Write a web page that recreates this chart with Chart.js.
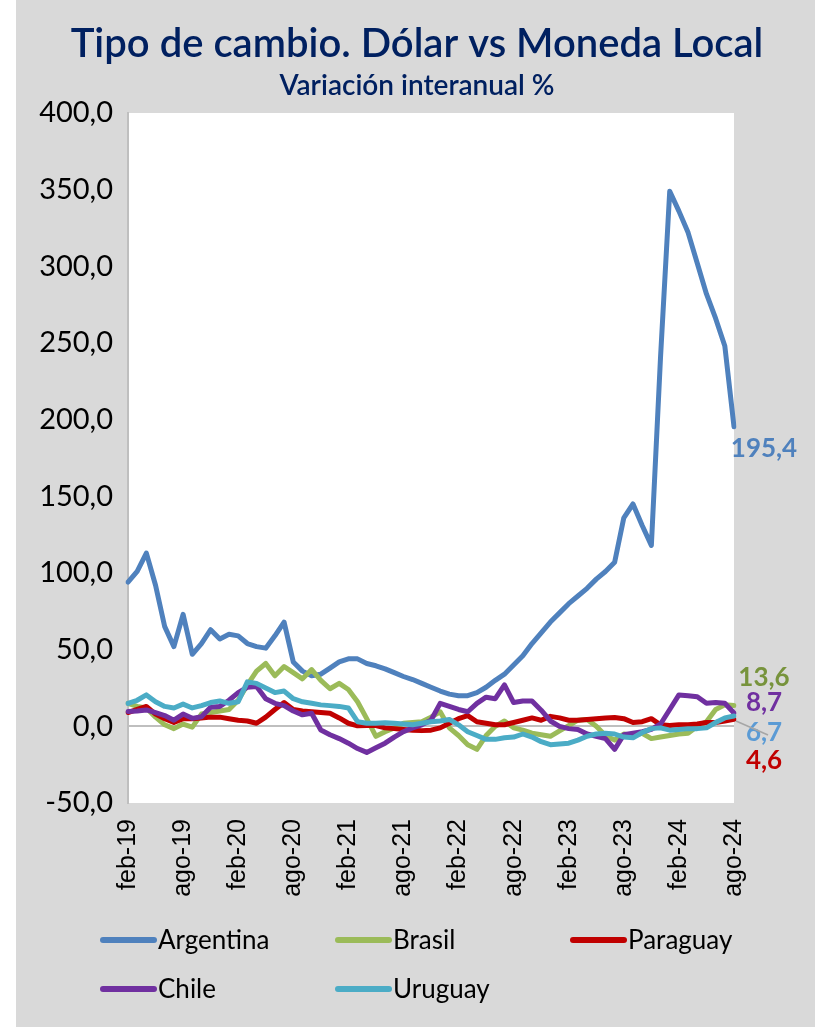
<!DOCTYPE html>
<html>
<head>
<meta charset="utf-8">
<script src="https://cdn.jsdelivr.net/npm/chart.js@4.4.0/dist/chart.umd.min.js"></script>
<style>
  html, body { margin: 0; padding: 0; background: #fff; }
  #wrap { width: 820px; height: 1027px; }
</style>
</head>
<body>
<div id="wrap"><canvas id="myChart" width="820" height="1027"></canvas></div>
<script>
// categorias: feb-19 ... ago-24 (mensual)
const meses = ['ene', 'feb', 'mar', 'abr', 'may', 'jun', 'jul', 'ago', 'sep', 'oct', 'nov', 'dic'];
const anios = ['19', '20', '21', '22', '23', '24'];
const etiquetas = [];
anios.forEach((a, k) => {
  meses.forEach((m, j) => {
    if (k === 0 && j < 1) return;
    if (k === anios.length - 1 && j > 7) return;
    etiquetas.push(m + '-' + a);
  });
});

const yTicks = [-50, 0, 50, 100, 150, 200, 250, 300, 350, 400];

const argentina = [94, 101, 113, 92, 65, 52, 73, 47, 54, 63, 57, 60, 59, 54, 52, 51, 59, 68, 42, 36,
  33, 34, 38, 42, 44, 44, 41, 39.5, 37.5, 35, 32.5, 30.5, 28, 25.5, 23, 21, 20, 20, 22, 25.5,
  30, 34, 40, 46, 54, 61, 68, 74, 80, 85, 90, 96, 101, 107, 136, 145, 131, 118, 241, 349,
  336, 322, 302, 282, 266, 248, 195.4];
const brasil = [15, 13, 12, 6, 1, -1.5, 1.5, -0.5, 8, 9, 10, 11, 17, 27, 36, 41, 33, 39, 35, 31,
  37, 30, 24.5, 28, 24, 16, 5, -6.5, -3.5, -1, 2, 2.5, 3, 6, 9.5, -1, -6, -12, -15, -6,
  0, 3.5, -1, -2.5, -4.5, -5.5, -6.5, -3, 0.5, 4, 4.5, 0, -6, -9, -5, -6, -4.5, -8, -7, -6,
  -5, -4.5, 0, 3, 11, 14, 13.6];
const paraguay = [9, 11, 13, 8, 5, 2.5, 5, 5, 5.5, 6, 6, 5, 4, 3.5, 2, 6, 11, 15.5, 11, 10,
  9.5, 9, 8.5, 5.5, 2, 0.3, 0.5, 0.5, -1, -1.5, -2, -2.5, -2.8, -2.5, -1, 2, 5, 7, 3, 2,
  1, 1, 2.5, 4, 5.5, 4, 6.5, 5.5, 4, 4, 4.5, 5, 5.5, 5.8, 5, 2.5, 3, 5, 1, 0.5,
  1, 1, 1.5, 2.5, 2.5, 3.5, 4.6];
const chile = [9.6, 10, 10.7, 9, 7, 4, 8, 5.2, 6.3, 12.5, 13, 17, 22, 25.5, 26, 18, 15, 13.5, 10, 7.5,
  8.5, -2.4, -5.5, -8, -11, -14.5, -17, -14, -11, -7, -3.5, -1, 1, 4, 15, 13, 11, 9.5, 15, 19,
  18, 27, 15.5, 16.5, 16.5, 10.5, 3.5, 0, -1.5, -2, -5, -6.5, -8, -15, -5.5, -4.5, -3.5, -2, 1.5, 11,
  20.5, 20, 19.3, 15, 15.5, 15, 8.7];
const uruguay = [15, 17, 20.5, 16, 13, 12, 14.5, 12, 13.5, 15.5, 16.5, 15, 16, 29, 28, 25, 22, 23, 18, 16,
  15, 14, 13.5, 13, 12, 3, 2, 2, 2.4, 2, 1.5, 1, 2, 3, 3.5, 4.5, 1, -3.5, -6, -8.5,
  -8.5, -7.5, -7, -5, -7, -10, -12, -11.5, -11, -9, -6.5, -5, -4.5, -5, -7, -7.5, -4, -1.5, -1, -2.5,
  -2, -1.5, -1.5, -1, 2.5, 5.5, 6.7];

const series = [
  { label: 'Argentina', data: argentina, color: '#4F81BD', labelColor: '#4F81BD', dy: 22 },
  { label: 'Brasil', data: brasil, color: '#9BBB59', labelColor: '#77933C', dy: -28 },
  { label: 'Paraguay', data: paraguay, color: '#C00000', labelColor: '#C00000', dy: 41 },
  { label: 'Chile', data: chile, color: '#7030A0', labelColor: '#7030A0', dy: -10 },
  { label: 'Uruguay', data: uruguay, color: '#4BACC6', labelColor: '#5B9BD5', dy: 17 }
];

const FUENTE = 'Lato, "Open Sans", sans-serif';

const fondo = {
  id: 'fondo',
  beforeDraw(chart) {
    const ctx = chart.ctx, a = chart.chartArea;
    ctx.save();
    ctx.fillStyle = '#ffffff';
    ctx.fillRect(0, 0, chart.width, chart.height);
    ctx.fillStyle = '#d9d9d9';
    ctx.fillRect(16, 0, 799, chart.height);
    ctx.fillStyle = '#ffffff';
    ctx.fillRect(a.left, a.top, a.right - a.left, a.bottom - a.top);
    ctx.restore();
  },
  afterDraw(chart) {
    const ctx = chart.ctx;
    const x = chart.scales.x, y = chart.scales.y;
    ctx.save();
    // titulo
    ctx.fillStyle = '#002060';
    ctx.textAlign = 'center';
    ctx.textBaseline = 'alphabetic';
    ctx.font = '600 40px ' + FUENTE;
    ctx.fillText('Tipo de cambio. Dólar vs Moneda Local', 417, 57);
    ctx.font = '600 28px ' + FUENTE;
    ctx.fillText('Variación interanual %', 417, 95);

    // etiquetas del ultimo dato
    const last = etiquetas.length - 1;
    const px = x.getPixelForValue(last);
    ctx.font = 'bold 26px ' + FUENTE;
    ctx.textBaseline = 'middle';
    series.forEach(s => {
      const v = s.data[last];
      const py = y.getPixelForValue(v);
      ctx.fillStyle = s.labelColor;
      ctx.fillText(v.toFixed(1).replace('.', ','), px + 30, py + s.dy);
    });
    // linea guia de Uruguay
    const pu = y.getPixelForValue(uruguay[last]);
    ctx.strokeStyle = '#a6a6a6';
    ctx.lineWidth = 1.5;
    ctx.beginPath();
    ctx.moveTo(px + 2, pu + 5);
    ctx.lineTo(px + 34, pu + 19);
    ctx.stroke();

    // leyenda
    const cols = [100, 335, 570];
    const rows = [940, 989];
    ctx.font = '26px ' + FUENTE;
    ctx.textAlign = 'left';
    series.forEach((s, i) => {
      const cx = cols[i % 3], cy = rows[Math.floor(i / 3)];
      ctx.strokeStyle = s.color;
      ctx.lineWidth = 6;
      ctx.lineCap = 'round';
      ctx.beginPath();
      ctx.moveTo(cx + 3, cy);
      ctx.lineTo(cx + 54, cy);
      ctx.stroke();
      ctx.fillStyle = '#000';
      ctx.fillText(s.label, cx + 58, cy + 1);
    });
    ctx.restore();
  }
};

const ctx = document.getElementById('myChart').getContext('2d');
const myChart = new Chart(ctx, {
  type: 'line',
  data: {
    labels: etiquetas,
    datasets: series.map((s, i) => ({
      label: s.label,
      data: s.data,
      borderColor: s.color,
      backgroundColor: s.color,
      borderWidth: 5,
      pointRadius: 0,
      tension: 0,
      borderJoinStyle: 'round',
      borderCapStyle: 'round',
      order: series.length - i
    }))
  },
  options: {
    responsive: false,
    maintainAspectRatio: false,
    animation: false,
    layout: { padding: { left: 0, top: 113, right: 86, bottom: 114 } },
    plugins: {
      legend: { display: false },
      tooltip: { enabled: false },
      title: { display: false }
    },
    scales: {
      x: {
        type: 'category',
        offset: false,
        afterFit(scale) { scale.height = 110; },
        grid: { display: false },
        border: { display: false },
        ticks: {
          autoSkip: false,
          maxRotation: 90,
          minRotation: 90,
          padding: 8,
          color: '#000',
          font: { family: '"Liberation Sans", Arial, sans-serif', size: 25 },
          callback: (v, i) => (i % 6 === 0 ? etiquetas[i] : '')
        }
      },
      y: {
        min: -50,
        max: 400,
        afterFit(scale) { scale.width = 128; },
        afterBuildTicks(scale) { scale.ticks = yTicks.map(v => ({ value: v })); },
        grid: {
          drawTicks: false,
          lineWidth: 2,
          color: c => (c.tick && c.tick.value === 0 ? '#bfbfbf' : 'rgba(0,0,0,0)')
        },
        border: { display: true, color: '#bfbfbf', width: 2 },
        ticks: {
          padding: 15,
          color: '#000',
          font: { family: FUENTE, size: 29 },
          callback: v => Number(v).toFixed(1).replace('.', ',')
        }
      }
    }
  },
  plugins: [fondo]
});
</script>
</body>
</html>
